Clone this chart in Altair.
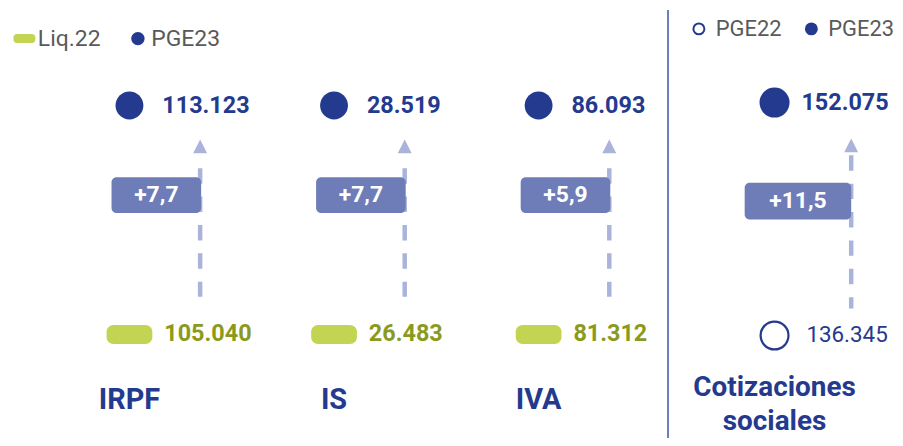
import altair as alt
import pandas as pd

# ---------------- data ----------------
categories = ["IRPF", "IS", "IVA"]
liq22 = [105040, 26483, 81312]
pge23 = [113123, 28519, 86093]

cot_category = ["Cotizaciones sociales"]
cot_pge22 = [136345]
cot_pge23 = [152075]

left_series = ["Liq.22", "PGE23"]
right_series = ["PGE22", "PGE23"]

# ---------------- helpers ----------------
def fmt_int(v):
    return f"{v:,}".replace(",", ".")

def fmt_growth(a, b):
    return "+" + f"{(b / a - 1) * 100:.1f}".replace(".", ",")

def rrect(w, h, r):
    # rounded rectangle path normalised so that width spans [-1, 1]
    s = w / 2.0
    hx, hy, rr = 1.0, (h / 2.0) / s, r / s
    return (f"M{-hx+rr},{-hy} H{hx-rr} A{rr},{rr} 0 0 1 {hx},{-hy+rr} "
            f"V{hy-rr} A{rr},{rr} 0 0 1 {hx-rr},{hy} H{-hx+rr} "
            f"A{rr},{rr} 0 0 1 {-hx},{hy-rr} V{-hy+rr} A{rr},{rr} 0 0 1 {-hx+rr},{-hy} Z")

def circ(r):
    return f"M{r},0 A{r},{r} 0 1 1 {-r},0 A{r},{r} 0 1 1 {r},0 Z"

NAVY = "#233a8e"
GREEN = "#c3d452"
OLIVE = "#8a9a1c"
BOXC = "#6e7cb7"
ARROW = "#aab4db"
GREY = "#5a5a5a"
SEP = "#6f7cb8"
FONT = "Roboto"

PILL = rrect(46, 19, 7)
DOT = circ(28 / 46)
TRI = "M0,-1 L1,1 L-1,1 Z"

# ---------------- tables ----------------
left_rows = []
for c, a, b in zip(categories, liq22, pge23):
    left_rows.append({"cat": c, "series": "Liq.22", "value": a, "label": fmt_int(a)})
    left_rows.append({"cat": c, "series": "PGE23", "value": b, "label": fmt_int(b)})
left_df = pd.DataFrame(left_rows)
left_growth = pd.DataFrame({"cat": categories,
                            "growth": [fmt_growth(a, b) for a, b in zip(liq22, pge23)]})

right_rows = []
for c, a, b in zip(cot_category, cot_pge22, cot_pge23):
    right_rows.append({"cat": c, "series": "PGE22", "value": a, "label": fmt_int(a)})
    right_rows.append({"cat": c, "series": "PGE23", "value": b, "label": fmt_int(b)})
right_df = pd.DataFrame(right_rows)
right_growth = pd.DataFrame({"cat": cot_category,
                             "growth": [fmt_growth(a, b) for a, b in zip(cot_pge22, cot_pge23)]})

# ---------------- left panel ----------------
W1, W2, H = 662, 225, 430

XL = alt.X("cat:N", scale=alt.Scale(type="point", domain=categories, range=[122, 533], padding=0),
           axis=None)
YL = alt.Y("series:N", scale=alt.Scale(type="point", domain=["PGE23", "Liq.22"],
                                        range=[96, 326], padding=0), axis=None)

leg_left = alt.Legend(orient="none", legendX=5, legendY=17, direction="horizontal",
                      title=None, labelFontSize=23, labelColor=GREY, labelFont=FONT,
                      symbolSize=484, labelOffset=2, columnPadding=26, padding=0,
                      symbolStrokeWidth=0, symbolOpacity=1)

lbase = alt.Chart(left_df).encode(x=XL)

l_points = lbase.mark_point(filled=True, opacity=1, size=2116, strokeWidth=0).encode(
    y=YL,
    shape=alt.Shape("series:N", scale=alt.Scale(domain=left_series, range=[PILL, DOT]), legend=leg_left),
    color=alt.Color("series:N", scale=alt.Scale(domain=left_series, range=[GREEN, NAVY]), legend=leg_left),
)
l_text_top = lbase.transform_filter(alt.datum.series == "PGE23").mark_text(
    align="left", baseline="middle", dx=33, fontSize=23.5, fontWeight="bold", color=NAVY, font=FONT
).encode(y=YL, text="label:N")
l_text_bot = lbase.transform_filter(alt.datum.series == "Liq.22").mark_text(
    align="left", baseline="middle", dx=35, fontSize=23.5, fontWeight="bold", color=OLIVE, font=FONT
).encode(y=YL, text="label:N")

gbase = alt.Chart(left_growth).encode(x=XL)
l_line = gbase.mark_rule(xOffset=71, color=ARROW, strokeWidth=4.5, strokeDash=[15.5, 13]).encode(
    y=alt.value(159), y2=alt.value(288))
l_head = gbase.mark_point(shape=TRI, size=196, filled=True, opacity=1, color=ARROW,
                          strokeWidth=0, xOffset=71).encode(y=alt.value(137))
l_box = gbase.mark_point(shape=rrect(90, 36, 5), size=8100, filled=True, opacity=1,
                         color=BOXC, strokeWidth=0, xOffset=27).encode(y=alt.value(186))
l_box_text = gbase.mark_text(color="white", fontSize=23, fontWeight="bold", font=FONT,
                             xOffset=27, baseline="middle").encode(y=alt.value(186), text="growth:N")
l_labels = gbase.mark_text(color=NAVY, fontSize=29, fontWeight="bold", font=FONT,
                           baseline="middle").encode(y=alt.value(392), text="cat:N")

left = alt.layer(l_line, l_head, l_box, l_box_text, l_points, l_text_top, l_text_bot, l_labels
                 ).properties(width=W1, height=H)

# ---------------- right panel ----------------
XR = alt.X("cat:N", scale=alt.Scale(type="point", domain=cot_category, range=[108, 108], padding=0),
           axis=None)
YR = alt.Y("series:N", scale=alt.Scale(type="point", domain=["PGE23", "PGE22"],
                                        range=[93, 327], padding=0), axis=None)

leg_right = alt.Legend(orient="none", legendX=21, legendY=8, direction="horizontal",
                       title=None, labelFontSize=22, labelColor=GREY, labelFont=FONT,
                       symbolSize=121, symbolType="circle", symbolStrokeColor=NAVY,
                       symbolStrokeWidth=2, labelOffset=6, columnPadding=18, padding=0)

rbase = alt.Chart(right_df).encode(x=XR)
r_points = rbase.mark_point(shape="circle", filled=True, opacity=1, size=784,
                            stroke=NAVY, strokeWidth=2.2).encode(
    y=YR,
    fill=alt.Fill("series:N", scale=alt.Scale(domain=right_series, range=["white", NAVY]), legend=leg_right),
)
r_text_top = rbase.transform_filter(alt.datum.series == "PGE23").mark_text(
    align="left", baseline="middle", dx=27, fontSize=23.5, fontWeight="bold", color=NAVY, font=FONT
).encode(y=YR, text="label:N")
r_text_bot = rbase.transform_filter(alt.datum.series == "PGE22").mark_text(
    align="left", baseline="middle", dx=32, fontSize=22.5, color=NAVY, font=FONT
).encode(y=YR, text="label:N")

rg = alt.Chart(right_growth).encode(x=XR)
r_line = rg.mark_rule(xOffset=77, color=ARROW, strokeWidth=4.5, strokeDash=[15.5, 13]).encode(
    y=alt.value(146), y2=alt.value(300))
r_head = rg.mark_point(shape=TRI, size=196, filled=True, opacity=1, color=ARROW,
                       strokeWidth=0, xOffset=77).encode(y=alt.value(136))
r_box = rg.mark_point(shape=rrect(107, 37, 5), size=107 * 107, filled=True, opacity=1,
                      color=BOXC, strokeWidth=0, xOffset=23.5).encode(y=alt.value(192))
r_box_text = rg.mark_text(color="white", fontSize=23, fontWeight="bold", font=FONT,
                          xOffset=23.5, baseline="middle").encode(y=alt.value(192), text="growth:N")
r_labels = rg.mark_text(color=NAVY, fontSize=28, fontWeight="bold", font=FONT, baseline="middle",
                        lineBreak=" ", lineHeight=34).encode(y=alt.value(380), text="cat:N")
r_sep = rg.mark_rule(color=SEP, strokeWidth=2).encode(
    x=alt.value(1), y=alt.value(0), y2=alt.value(H))

right = alt.layer(r_sep, r_line, r_head, r_box, r_box_text, r_points, r_text_top, r_text_bot, r_labels
                  ).properties(width=W2, height=H)

chart = alt.hconcat(left, right, spacing=0).resolve_scale(
    x="independent", y="independent", color="independent", shape="independent", fill="independent"
).resolve_legend(color="independent", shape="independent", fill="independent").properties(
    padding=0
).configure(font=FONT).configure_view(stroke="transparent", strokeWidth=0)

chart.save("out.html", embed_options={"renderer": "svg", "actions": False})
